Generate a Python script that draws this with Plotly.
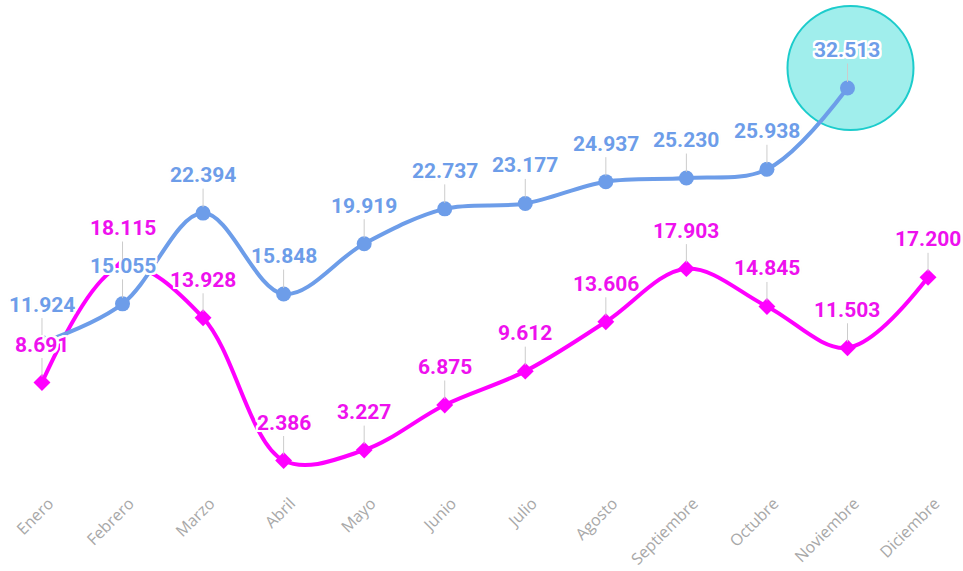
import plotly.graph_objects as go

months = ["Enero", "Febrero", "Marzo", "Abril", "Mayo", "Junio", "Julio",
          "Agosto", "Septiembre", "Octubre", "Noviembre", "Diciembre"]
serie_azul = [11.924, 15.055, 22.394, 15.848, 19.919, 22.737, 23.177,
              24.937, 25.230, 25.938, 32.513, None]
serie_magenta = [8.691, 18.115, 13.928, 2.386, 3.227, 6.875, 9.612,
                 13.606, 17.903, 14.845, 11.503, 17.200]
highlight_month = "Noviembre"

BLUE = "#6d9de9"
MAGENTA = "#ff00ff"
MAGENTA_TXT = "#ee11ee"
offs = [(-2, -2), (0, -2), (2, -2), (-2, 0), (2, 0), (-2, 2), (0, 2), (2, 2),
        (-1, -2), (1, -2), (-1, 2), (1, 2), (-2, -1), (-2, 1), (2, -1), (2, 1)]
HALO = ", ".join(f"white {dx}px {dy}px 0px" for dx, dy in offs) + \
    ", #cfcfcf 0px 0px 3px"


def fmt(v):
    return f"{v:.3f}"


fig = go.Figure()
fig.add_trace(go.Scatter(
    x=months, y=serie_magenta, mode="lines+markers",
    line=dict(color=MAGENTA, width=4, shape="spline", smoothing=1),
    marker=dict(symbol="diamond", size=13, color=MAGENTA),
    showlegend=False, hoverinfo="skip"))
fig.add_trace(go.Scatter(
    x=months, y=serie_azul, mode="lines+markers",
    line=dict(color=BLUE, width=4, shape="spline", smoothing=1),
    marker=dict(symbol="circle", size=15, color=BLUE),
    showlegend=False, hoverinfo="skip"))

annotations = []
for series, color in ((serie_azul, BLUE), (serie_magenta, MAGENTA_TXT)):
    for m, v in zip(months, series):
        if v is None:
            continue
        annotations.append(dict(
            x=m, y=v, xref="x", yref="y", text=fmt(v),
            showarrow=True, arrowhead=0, arrowwidth=1, arrowcolor="#cccccc",
            ax=0, ay=-38, standoff=6,
            font=dict(family="Roboto", size=21, color=color, weight="bold",
                      shadow=HALO)))

hv = serie_azul[months.index(highlight_month)]
fig.add_shape(type="circle", xref="x", yref="y",
              xsizemode="pixel", ysizemode="pixel",
              xanchor=highlight_month, yanchor=hv,
              x0=-60, x1=66, y0=-42, y1=82,
              fillcolor="#a0eeec", line=dict(color="#1ccccc", width=2),
              layer="below")

fig.update_layout(
    width=963, height=571,
    margin=dict(l=0, r=0, t=0, b=81, autoexpand=False),
    paper_bgcolor="white", plot_bgcolor="white",
    annotations=annotations,
    xaxis=dict(type="category", categoryorder="array", categoryarray=months,
               range=[-0.521, 11.434], showgrid=False, zeroline=False,
               showline=False, ticks="", tickangle=-45, automargin=False,
               ticklabelshift=7,
               tickfont=dict(family="Open Sans", size=16, color="#a8a8a8")),
    yaxis=dict(range=[0, 39.63], showgrid=False, zeroline=False,
               showline=False, showticklabels=False, automargin=False),
)

fig.write_html(
    "out.html",
    config={"displayModeBar": False},
    post_script="document.body.style.margin='0';"
                "document.body.style.overflow='hidden';"
                "document.documentElement.style.overflow='hidden';")
